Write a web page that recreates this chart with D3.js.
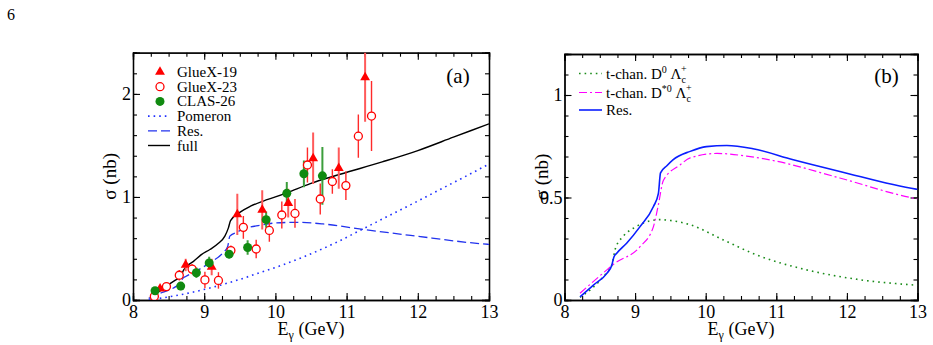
<!DOCTYPE html>
<html>
<head>
<meta charset="utf-8">
<script src="https://cdn.jsdelivr.net/npm/d3@7.9.0/dist/d3.min.js"></script>
<style>
  body { margin: 0; background: #fff; }
</style>
</head>
<body>
<svg id="chart" width="933" height="345"></svg>
<script>
// ---- data ----
const energyTicks = [8, 9, 10, 11, 12, 13];
const sigmaTicksA = [0, 1, 2];
const sigmaTicksB = [0, 0.5, 1];

// [E_gamma, sigma, error]
const gluex19 = [
  [8.38, 0.11, 0.02], [8.74, 0.34, 0.06], [9.105, 0.32, 0.08], [9.465, 0.83, 0.20],
  [9.815, 0.875, 0.19], [10.18, 0.94, 0.14], [10.53, 1.375, 0.25], [10.89, 1.28, 0.2],
  [11.26, 2.16, 0.43]
];
const gluex23 = [
  [8.30, 0.035, 0.015], [8.47, 0.13, 0.03], [8.65, 0.24, 0.05], [8.83, 0.30, 0.05],
  [9.01, 0.195, 0.08], [9.20, 0.19, 0.08], [9.375, 0.48, 0.05], [9.55, 0.705, 0.11],
  [9.73, 0.495, 0.09], [9.915, 0.675, 0.11], [10.09, 0.825, 0.13], [10.275, 0.84, 0.14],
  [10.45, 1.31, 0.17], [10.63, 0.98, 0.15], [10.80, 1.15, 0.12], [10.99, 1.11, 0.14],
  [11.165, 1.59, 0.21], [11.35, 1.785, 0.34]
];
const clas26 = [
  [8.31, 0.09, 0.02], [8.67, 0.135, 0.04], [8.89, 0.265, 0.05], [9.07, 0.36, 0.06],
  [9.35, 0.445, 0.04], [9.61, 0.51, 0.07], [9.87, 0.78, 0.08], [10.16, 1.035, 0.11],
  [10.40, 1.225, 0.13], [10.66, 1.205, 0.28]
];

// model curves [E_gamma, sigma]
const pomeron = [
  [8.22, 0.0], [8.5, 0.03], [8.8, 0.07], [9.1, 0.12], [9.5, 0.2], [9.8, 0.27],
  [10.1, 0.34], [10.4, 0.42], [10.86, 0.56], [11.23, 0.69], [11.6, 0.82],
  [12.0, 0.96], [12.32, 1.075], [12.7, 1.21], [13.0, 1.32]
];
const resonance = [
  [8.22, 0.015], [8.41, 0.073], [8.6, 0.13], [8.67, 0.17], [8.70, 0.21], [8.74, 0.228],
  [8.88, 0.277], [9.07, 0.358], [9.26, 0.456], [9.33, 0.52], [9.36, 0.62], [9.45, 0.655],
  [9.54, 0.685], [9.78, 0.725], [10.01, 0.748], [10.30, 0.754], [10.67, 0.738],
  [11.24, 0.684], [11.9, 0.627], [12.98, 0.541], [13.0, 0.54]
];
const full = [
  [8.24, 0.02], [8.36, 0.08], [8.47, 0.135], [8.59, 0.19], [8.67, 0.225], [8.71, 0.29],
  [8.75, 0.325], [8.85, 0.375], [8.96, 0.44], [9.08, 0.49], [9.2, 0.55], [9.29, 0.62],
  [9.34, 0.70], [9.37, 0.77], [9.5, 0.85], [9.65, 0.91], [9.83, 0.96], [10.0, 1.0],
  [10.16, 1.04], [10.49, 1.13], [10.91, 1.22], [11.5, 1.34], [12.0, 1.45], [12.5, 1.58],
  [13.0, 1.71]
];
const tchanD0 = [
  [8.22, 0.013], [8.4, 0.06], [8.6, 0.135], [8.67, 0.17], [8.72, 0.25], [8.83, 0.31],
  [9.0, 0.355], [9.2, 0.385], [9.35, 0.392], [9.5, 0.388], [9.78, 0.367], [10.25, 0.293],
  [10.72, 0.22], [11.43, 0.147], [12.14, 0.101], [13.0, 0.072]
];
const tchanDstar = [
  [8.22, 0.033], [8.6, 0.147], [8.70, 0.176], [9.07, 0.26], [9.26, 0.358], [9.33, 0.465],
  [9.40, 0.583], [9.64, 0.66], [9.78, 0.693], [10.16, 0.715], [10.58, 0.702],
  [10.96, 0.68], [11.9, 0.595], [12.94, 0.497], [13.0, 0.493]
];

const FONT = '"Liberation Serif", "Times New Roman", serif';
const svg = d3.select('#chart');

// every text gets the serif face inline
function txt(parent, size) {
  return parent.append('text').style('font-family', FONT).style('font-size', size + 'px');
}

// page number
txt(svg, 16).attr('x', 7).attr('y', 20).text('6');

function makePanel(opt) {
  const x = d3.scaleLinear().domain([8, 13]).range([opt.x0, opt.x1]);
  const y = d3.scaleLinear().domain([0, opt.ymax]).range([300, opt.ytop]);
  const g = svg.append('g');

  const clipId = 'clip-' + opt.name;
  svg.append('clipPath').attr('id', clipId)
    .append('rect').attr('x', opt.x0).attr('y', opt.ytop)
    .attr('width', opt.x1 - opt.x0).attr('height', 300 - opt.ytop);

  const xMinor = d3.range(8, 13.001, 0.25);
  const yMinor = d3.range(0, opt.ymax + 1e-6, opt.yminor);

  // minor ticks (inward, all four sides)
  const noLabel = () => '';
  g.append('g').attr('transform', 'translate(0,300)')
    .call(d3.axisBottom(x).tickValues(xMinor).tickSize(-4).tickFormat(noLabel));
  g.append('g').attr('transform', `translate(0,${opt.ytop})`)
    .call(d3.axisTop(x).tickValues(xMinor).tickSize(-4).tickFormat(noLabel));
  g.append('g').attr('transform', `translate(${opt.x0},0)`)
    .call(d3.axisLeft(y).tickValues(yMinor).tickSize(-4).tickFormat(noLabel));
  g.append('g').attr('transform', `translate(${opt.x1},0)`)
    .call(d3.axisRight(y).tickValues(yMinor).tickSize(-4).tickFormat(noLabel));

  // major ticks with labels
  g.append('g').attr('transform', 'translate(0,300)')
    .call(d3.axisBottom(x).tickValues(energyTicks).tickSize(-7).tickPadding(5).tickFormat(d3.format('d')));
  g.append('g').attr('transform', `translate(0,${opt.ytop})`)
    .call(d3.axisTop(x).tickValues(energyTicks).tickSize(-7).tickFormat(noLabel));
  g.append('g').attr('transform', `translate(${opt.x0},0)`)
    .call(d3.axisLeft(y).tickValues(opt.yticks).tickSize(-7).tickPadding(2).tickFormat(d => String(d)));
  g.append('g').attr('transform', `translate(${opt.x1},0)`)
    .call(d3.axisRight(y).tickValues(opt.yticks).tickSize(-7).tickFormat(noLabel));

  g.selectAll('.domain').attr('stroke', '#000').attr('stroke-width', 1.3);
  g.selectAll('.tick line').attr('stroke', '#000').attr('stroke-width', 1.1);
  g.selectAll('.tick text').attr('fill', '#000')
    .style('font-family', FONT).style('font-size', '18px');

  // axis titles
  const xt = txt(svg, 18)
    .attr('x', (opt.x0 + opt.x1) / 2).attr('y', 335)
    .attr('text-anchor', 'middle');
  xt.append('tspan').text('E');
  xt.append('tspan').style('font-size', '12px').attr('dy', 4).text('γ');
  xt.append('tspan').attr('dy', -4).text(' (GeV)');

  txt(svg, 19)
    .attr('transform', `translate(${opt.x0 - 17},${(300 + opt.ytop) / 2}) rotate(-90)`)
    .attr('text-anchor', 'middle').text('σ (nb)');

  txt(svg, 21).attr('x', opt.x1 - 31).attr('y', 83)
    .attr('text-anchor', 'middle').text(opt.label);

  const line = d3.line().x(d => x(d[0])).y(d => y(d[1])).curve(d3.curveMonotoneX);
  const plot = svg.append('g').attr('clip-path', `url(#${clipId})`);
  return { x, y, line, plot };
}

// ---------------- panel (a) ----------------
const A = makePanel({ name: 'a', x0: 133, x1: 489, ytop: 52.7, ymax: 2.4, yminor: 0.2, yticks: sigmaTicksA, label: '(a)' });

A.plot.append('path').datum(pomeron).attr('d', A.line)
  .attr('fill', 'none').attr('stroke', '#1f2fff').attr('stroke-width', 1.6).attr('stroke-dasharray', '1.6,4');
A.plot.append('path').datum(resonance).attr('d', A.line)
  .attr('fill', 'none').attr('stroke', '#2233ee').attr('stroke-width', 1.3).attr('stroke-dasharray', '9,4');
A.plot.append('path').datum(full).attr('d', A.line)
  .attr('fill', 'none').attr('stroke', '#000').attr('stroke-width', 1.4);

function errorBars(data, color, width) {
  A.plot.append('g').selectAll('line').data(data).join('line')
    .attr('x1', d => A.x(d[0])).attr('x2', d => A.x(d[0]))
    .attr('y1', d => A.y(d[1] - d[2])).attr('y2', d => A.y(d[1] + d[2]))
    .attr('stroke', color).attr('stroke-width', width);
}
errorBars(clas26, '#3c9e3c', 2);
errorBars(gluex19, '#ff5a5a', 2);
errorBars(gluex23, '#ff2a2a', 1.4);

const tri = d3.symbol().type(d3.symbolTriangle).size(42);
A.plot.append('g').selectAll('path').data(gluex19).join('path')
  .attr('transform', d => `translate(${A.x(d[0])},${A.y(d[1])})`)
  .attr('d', tri).attr('fill', '#ff0000');
A.plot.append('g').selectAll('circle').data(gluex23).join('circle')
  .attr('cx', d => A.x(d[0])).attr('cy', d => A.y(d[1])).attr('r', 4)
  .attr('fill', '#fff').attr('stroke', '#ff0000').attr('stroke-width', 1.3);
A.plot.append('g').selectAll('circle').data(clas26).join('circle')
  .attr('cx', d => A.x(d[0])).attr('cy', d => A.y(d[1])).attr('r', 4.5)
  .attr('fill', '#108a10');

// legend (a)
const legA = svg.append('g');
const legRows = [72, 86.7, 101.4, 116.1, 130.8, 145.5];
legA.append('path').attr('d', tri).attr('transform', `translate(160,${legRows[0]})`).attr('fill', '#ff0000');
legA.append('circle').attr('cx', 160).attr('cy', legRows[1]).attr('r', 4)
  .attr('fill', '#fff').attr('stroke', '#ff0000').attr('stroke-width', 1.3);
legA.append('circle').attr('cx', 160).attr('cy', legRows[2]).attr('r', 4.5).attr('fill', '#108a10');
legA.append('line').attr('x1', 148).attr('x2', 170).attr('y1', legRows[3]).attr('y2', legRows[3])
  .attr('stroke', '#1f2fff').attr('stroke-width', 1.6).attr('stroke-dasharray', '1.6,4');
legA.append('line').attr('x1', 148).attr('x2', 170).attr('y1', legRows[4]).attr('y2', legRows[4])
  .attr('stroke', '#2233ee').attr('stroke-width', 1.3).attr('stroke-dasharray', '9,4');
legA.append('line').attr('x1', 148).attr('x2', 170).attr('y1', legRows[5]).attr('y2', legRows[5])
  .attr('stroke', '#000').attr('stroke-width', 1.4);
['GlueX-19', 'GlueX-23', 'CLAS-26', 'Pomeron', 'Res.', 'full'].forEach((t, i) => {
  txt(legA, 15).attr('x', 177).attr('y', legRows[i] + 5).text(t);
});

// ---------------- panel (b) ----------------
const B = makePanel({ name: 'b', x0: 564.5, x1: 917.5, ytop: 54, ymax: 1.2, yminor: 0.1, yticks: sigmaTicksB, label: '(b)' });

B.plot.append('path').datum(tchanD0).attr('d', B.line)
  .attr('fill', 'none').attr('stroke', '#1a8c1a').attr('stroke-width', 1.6).attr('stroke-dasharray', '1.6,4');
B.plot.append('path').datum(tchanDstar).attr('d', B.line)
  .attr('fill', 'none').attr('stroke', '#ff00ff').attr('stroke-width', 1.2).attr('stroke-dasharray', '8,3,2,3');
B.plot.append('path').datum(resonance).attr('d', B.line)
  .attr('fill', 'none').attr('stroke', '#0a1eff').attr('stroke-width', 1.6);

// legend (b)
const legB = svg.append('g');
const legBRows = [73.5, 92.5, 110];
legB.append('line').attr('x1', 579).attr('x2', 602).attr('y1', legBRows[0]).attr('y2', legBRows[0])
  .attr('stroke', '#1a8c1a').attr('stroke-width', 1.6).attr('stroke-dasharray', '1.6,4');
legB.append('line').attr('x1', 579).attr('x2', 602).attr('y1', legBRows[1]).attr('y2', legBRows[1])
  .attr('stroke', '#ff00ff').attr('stroke-width', 1.2).attr('stroke-dasharray', '8,3,2,3');
legB.append('line').attr('x1', 579).attr('x2', 602).attr('y1', legBRows[2]).attr('y2', legBRows[2])
  .attr('stroke', '#0a1eff').attr('stroke-width', 1.6);

function tchanLabel(yb, sup) {
  const t = txt(legB, 15).attr('x', 606).attr('y', yb);
  t.append('tspan').text('t-chan. D');
  t.append('tspan').style('font-size', '10px').attr('dy', -6).text(sup);
  t.append('tspan').attr('dy', 6).text(' Λ');
  t.append('tspan').style('font-size', '10px').attr('dy', 4).text('c');
  t.append('tspan').style('font-size', '10px').attr('dx', -5).attr('dy', -11).text('+');
}
tchanLabel(legBRows[0] + 5, '0');
tchanLabel(legBRows[1] + 5, '*0');
txt(legB, 15).attr('x', 606).attr('y', legBRows[2] + 5).text('Res.');
</script>
</body>
</html>
